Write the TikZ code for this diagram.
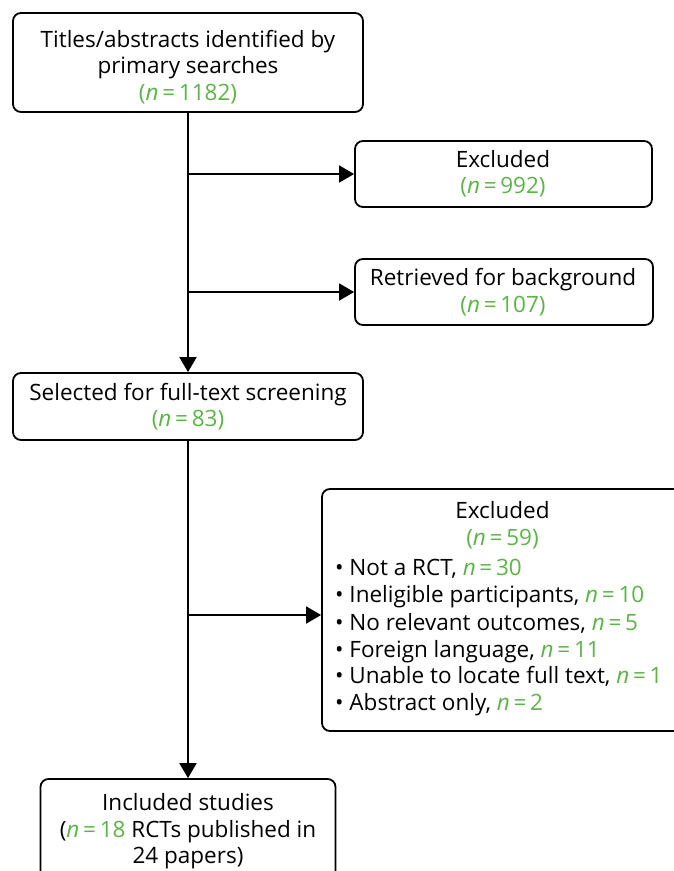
\documentclass[tikz,border=0pt]{standalone}
\usepackage{fontspec}
\setmainfont{Open Sans}
\usetikzlibrary{arrows.meta,calc}
\definecolor{ngreen}{RGB}{92,180,72}
\newcommand{\gn}[1]{\textcolor{ngreen}{#1}}
\newcommand{\nn}{\textit{n}\,=\,}
\begin{document}
\begin{tikzpicture}[x=1pt,y=-1pt,
  box/.style={draw=black, line width=1.8pt, rounded corners=8pt, inner sep=0pt},
  txt/.style={inner sep=0pt, anchor=base, font=\fontsize{22.5}{27}\selectfont},
  ltxt/.style={inner sep=0pt, anchor=base west, font=\fontsize{22.5}{27}\selectfont},
  arr/.style={line width=1.8pt, -{Triangle[length=15pt,width=17pt]}},
  ln/.style={line width=1.8pt}]
\useasboundingbox (0,0) rectangle (674,871);
\clip (0,0) rectangle (674,871);
% boxes
\node[box, minimum width=350pt, minimum height=99pt] (b1) at (188,62.5) {};
\node[box, minimum width=297pt, minimum height=66pt] (exa) at (503.5,174) {};
\node[box, minimum width=298pt, minimum height=66pt] (ret) at (504,292) {};
\node[box, minimum width=350pt, minimum height=67pt] (sel) at (188,406.5) {};
\node[box, minimum width=361pt, minimum height=242pt] (exb) at (502.5,610) {};
\node[box, minimum width=295pt, minimum height=110pt] (inc) at (188,834) {};
% texts
\node[txt] (t1a) at (188,47) {Titles/abstracts identified by};
\node[txt] (t1b) at (188,73.5) {primary searches};
\node[txt] (t1c) at (188,100) {\gn{(\nn1182)}};
\node[txt] (t2a) at (503,167) {Excluded};
\node[txt] (t2b) at (503,193) {\gn{(\nn992)}};
\node[txt] (t3a) at (503,285) {Retrieved for background};
\node[txt] (t3b) at (503,312) {\gn{(\nn107)}};
\node[txt] (t4a) at (188,400) {Selected for full-text screening};
\node[txt] (t4b) at (188,426) {\gn{(\nn83)}};
\node[txt] (t5a) at (502.5,518) {Excluded};
\node[txt] (t5b) at (502.5,545) {\gn{(\nn59)}};
\node[ltxt] (t5c) at (335,575) {• Not a RCT, \gn{\nn30}};
\node[ltxt] (t5d) at (335,602) {• Ineligible participants, \gn{\nn10}};
\node[ltxt] (t5e) at (335,630) {• No relevant outcomes, \gn{\nn5}};
\node[ltxt] (t5f) at (335,657) {• Foreign language, \gn{\nn11}};
\node[ltxt] (t5g) at (335,683) {• Unable to locate full text, \gn{\nn1}};
\node[ltxt] (t5h) at (335,710) {• Abstract only, \gn{\nn2}};
\node[txt] (t6a) at (188,810) {Included studies};
\node[txt] (t6b) at (188,837) {(\gn{\nn18} RCTs published in};
\node[txt] (t6c) at (188,863) {24 papers)};
% connectors
\coordinate (j1) at (188,174);
\coordinate (j2) at (188,292);
\coordinate (j3) at (188,615);
\draw[arr] (b1.south) -- (sel.north);
\draw[arr] (j1) -- (j1 -| exa.west);
\draw[arr] (j2) -- (j2 -| ret.west);
\draw[arr] (sel.south) -- (inc.north);
\draw[arr] (j3) -- (j3 -| exb.west);
\end{tikzpicture}
\end{document}
